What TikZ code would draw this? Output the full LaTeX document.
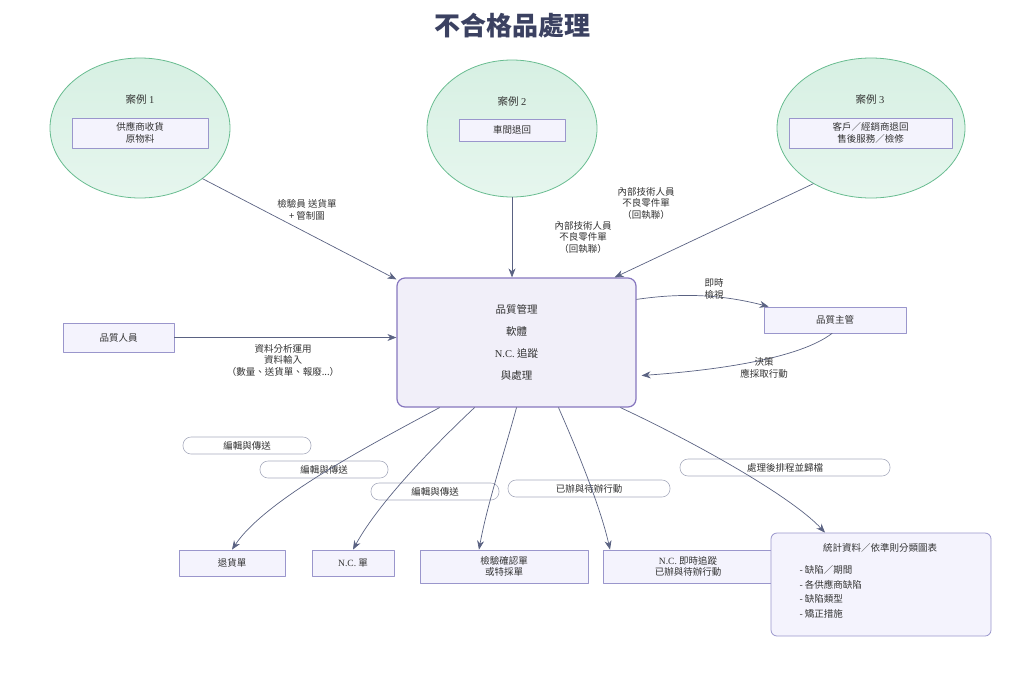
\documentclass[tikz,border=0pt]{standalone}
\usepackage{fontspec}
\setmainfont{Noto Sans CJK TC}
\newfontfamily\lat{Liberation Serif}
\usetikzlibrary{shapes.geometric,arrows.meta}
\definecolor{ink}{HTML}{333333}
\definecolor{titleink}{HTML}{3B4161}
\definecolor{casetop}{HTML}{D7F0E3}
\definecolor{casebot}{HTML}{E6F6EE}
\definecolor{caseline}{HTML}{68BC90}
\definecolor{boxfill}{HTML}{F4F3FD}
\definecolor{boxline}{HTML}{9A96CC}
\definecolor{qmsfill}{HTML}{F1EFF9}
\definecolor{qmsline}{HTML}{8676BE}
\definecolor{pillline}{HTML}{A8ACBE}
\definecolor{edgeline}{HTML}{5A6282}
\begin{document}
\begin{tikzpicture}[x=1pt,y=-1pt,>={Stealth[length=9pt,width=7pt]},line join=round,line cap=round,
	font=\fontsize{9.5}{11.5}\selectfont,text=ink,
	case/.style={ellipse,draw=caseline,line width=0.8pt,top color=casetop,bottom color=casebot,inner sep=0pt},
	box/.style={rectangle,draw=boxline,line width=0.8pt,fill=boxfill,align=center,inner sep=2pt},
	pill/.style={rectangle,rounded corners=8pt,draw=pillline,line width=0.6pt,fill=white,minimum height=17pt,inner sep=0pt},
	flow/.style={->,draw=edgeline,line width=0.7pt},
	lbl/.style={align=center}]
	\useasboundingbox (0,0) rectangle (1024,683);
	\node[text=titleink,font=\fontsize{26}{30}\selectfont\bfseries] (title) at (512,26) {不合格品處理};
	% cases
	\node[case,minimum width=180pt,minimum height=140pt] (case1) at (140,128) {};
	\node[font=\fontsize{10.5}{12}\selectfont] (case1t) at (140,100) {案例 {\lat 1}};
	\node[box,minimum width=136pt,minimum height=30pt] (supp) at (140,133) {供應商收貨\\原物料};
	\node[case,minimum width=170pt,minimum height=137pt] (case2) at (512,128.5) {};
	\node[font=\fontsize{10.5}{12}\selectfont] (case2t) at (512,102) {案例 {\lat 2}};
	\node[box,minimum width=106pt,minimum height=22pt] (shop) at (512,130) {車間退回};
	\node[case,minimum width=188pt,minimum height=140pt] (case3) at (871,128) {};
	\node[font=\fontsize{10.5}{12}\selectfont] (case3t) at (870,100) {案例 {\lat 3}};
	\node[box,minimum width=163pt,minimum height=30pt] (cust) at (870.5,133) {客戶／經銷商退回\\售後服務／檢修};
	% main boxes
	\node[rectangle,rounded corners=8pt,draw=qmsline,fill=qmsfill,line width=1.2pt,minimum width=239pt,minimum height=129pt,
		align=center,font=\fontsize{10.5}{22}\selectfont] (qms) at (516.5,342.5) {品質管理\\軟體\\{\lat N.C.} 追蹤\\與處理};
	\node[box,minimum width=111pt,minimum height=29pt] (staff) at (118.5,337.5) {品質人員};
	\node[box,minimum width=142pt,minimum height=26pt] (boss) at (835,320) {品質主管};
	\node[box,minimum width=106pt,minimum height=26pt] (ret) at (232,563) {退貨單};
	\node[box,minimum width=82pt,minimum height=26pt] (ncf) at (353,563) {{\lat N.C.} 單};
	\node[box,minimum width=168pt,minimum height=33pt] (insp) at (504,566.5) {檢驗確認單\\或特採單};
	\node[box,minimum width=170pt,minimum height=33pt] (track) at (688,566.5) {{\lat N.C.} 即時追蹤\\已辦與待辦行動};
	\node[box,rounded corners=6pt,minimum width=220pt,minimum height=103pt] (stats) at (881,584.5) {};
	\node (statst) at (880,548) {統計資料／依準則分類圖表};
	\node[align=left,anchor=west,font=\fontsize{9.5}{14.6}\selectfont] (statsl) at (796,592) {- 缺陷／期間\\- 各供應商缺陷\\- 缺陷類型\\- 矯正措施};
	% pills
	\node[pill,minimum width=128pt] (p1) at (247,445.5) {編輯與傳送};
	\node[pill,minimum width=128pt] (p2) at (324,469.5) {編輯與傳送};
	\node[pill,minimum width=128pt] (p3) at (435,491.5) {編輯與傳送};
	\node[pill,minimum width=162pt] (p4) at (589,488.5) {已辦與待辦行動};
	\node[pill,minimum width=210pt] (p5) at (785,467.5) {處理後排程並歸檔};
	% connectors
	\draw[flow] (case1.-39) -- ([yshift=-2pt]qms.north west);
	\draw[flow] (case2.south) -- (case2.south |- qms.north);
	\draw[flow] (case3.224) -- ([xshift=-22pt]qms.north east);
	\draw[flow] (staff.east) -- (staff.east -| qms.west);
	\draw[flow] ([yshift=-22pt]qms.north east) .. controls (680,293) and (720,294) .. ([xshift=5pt]boss.north west);
	\draw[flow] ([xshift=-3pt]boss.south) .. controls (800,358) and (720,370) .. ([xshift=5pt,yshift=-33pt]qms.east);
	\draw[flow] ([xshift=-77pt]qms.south) .. controls (370,445) and (265,500) .. (ret.north);
	\draw[flow] ([xshift=-42pt]qms.south) .. controls (440,440) and (380,500) .. (ncf.north);
	\draw[flow] (qms.south) .. controls (505,450) and (487,505) .. ([xshift=-25pt]insp.north);
	\draw[flow] ([xshift=42pt]qms.south) .. controls (575,445) and (600,505) .. ([xshift=-78pt]track.north);
	\draw[flow] ([xshift=104pt]qms.south) .. controls (690,440) and (790,495) .. ([xshift=-56pt]stats.north);
	% labels
	\node[lbl] (lb1) at (307,210) {檢驗員 送貨單\\+ 管制圖};
	\node[lbl] (lb2) at (583,237) {內部技術人員\\不良零件單\\（回執聯）};
	\node[lbl] (lb3) at (646,203) {內部技術人員\\不良零件單\\（回執聯）};
	\node[lbl] (lb4) at (283,360) {資料分析運用\\資料輸入\\（數量、送貨單、報廢...）};
	\node[lbl] (lb5) at (714,289) {即時\\檢視};
	\node[lbl] (lb6) at (764,368) {決策\\應採取行動};
\end{tikzpicture}
\end{document}
